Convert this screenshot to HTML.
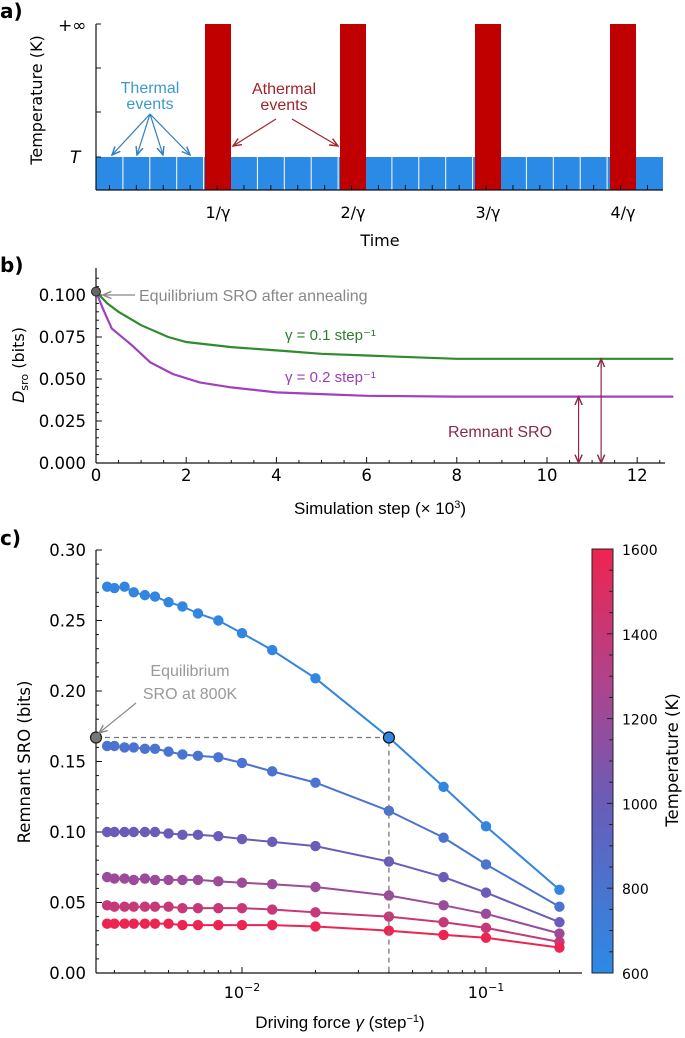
<!DOCTYPE html>
<html><head><meta charset="utf-8"><style>
body{margin:0;background:#fff;}
svg text{font-family:"DejaVu Sans","Liberation Sans",sans-serif;}
.ann{font-family:"Liberation Sans",sans-serif;}
</style></head><body>
<svg id="fig" width="685" height="1033" viewBox="0 0 685 1033" xmlns="http://www.w3.org/2000/svg">
<defs>
<linearGradient id="cbg" x1="0" y1="1" x2="0" y2="0"><stop offset="0" stop-color="#2a8be6"/><stop offset="0.4" stop-color="#6a5cb8"/><stop offset="0.7" stop-color="#b2428a"/><stop offset="1" stop-color="#ee2450"/></linearGradient>
<marker id="ab" markerWidth="8" markerHeight="8" refX="7" refY="4" orient="auto"><path d="M0,1 L7,4 L0,7" fill="none" stroke="#2f7fc0" stroke-width="1.2"/></marker>
<marker id="ar" markerWidth="8" markerHeight="8" refX="7" refY="4" orient="auto"><path d="M0,1 L7,4 L0,7" fill="none" stroke="#a3232a" stroke-width="1.2"/></marker>
<marker id="ag" markerWidth="8" markerHeight="8" refX="7" refY="4" orient="auto"><path d="M0,1 L7,4 L0,7" fill="none" stroke="#888" stroke-width="1.2"/></marker>
<marker id="am" markerWidth="8" markerHeight="8" refX="7" refY="4" orient="auto"><path d="M0,1 L7,4 L0,7" fill="none" stroke="#8b2a45" stroke-width="1.2"/></marker>
</defs>
<g id="pa"></g>
<g id="pb"></g>
<g id="pc"></g>
</svg>
<script>
// ---------- Panel b data ----------
const bGreenX=[0,0.25,0.5,1,1.6,2,3,4,5,6,7,8,10,12.8];
const bGreenY=[0.102,0.095,0.09,0.082,0.075,0.072,0.069,0.067,0.065,0.064,0.063,0.062,0.062,0.062];
const bPurpX=[0,0.15,0.35,0.8,1.2,1.7,2.3,3,4,5,6,8,10,12.8];
const bPurpY=[0.102,0.092,0.08,0.07,0.06,0.053,0.048,0.045,0.042,0.041,0.040,0.0395,0.0395,0.0395];
const bXTicks=[0,2,4,6,8,10,12];
const bYTicks=[0,0.025,0.05,0.075,0.1];
// ---------- Panel c data ----------
const cGamma=[0.0028,0.003,0.0033,0.0036,0.004,0.0044,0.005,0.0057,0.0066,0.008,0.01,0.0133,0.02,0.04,0.067,0.1,0.2];
const cS1=[0.274,0.273,0.274,0.270,0.268,0.267,0.263,0.260,0.255,0.250,0.241,0.229,0.209,0.167,0.132,0.104,0.059];
const cS2=[0.161,0.161,0.160,0.160,0.159,0.159,0.157,0.155,0.154,0.153,0.149,0.143,0.135,0.115,0.096,0.077,0.047];
const cS3=[0.100,0.100,0.100,0.100,0.100,0.100,0.099,0.098,0.098,0.097,0.095,0.093,0.090,0.079,0.068,0.057,0.036];
const cS4=[0.068,0.067,0.067,0.066,0.067,0.066,0.066,0.066,0.066,0.065,0.064,0.063,0.061,0.055,0.048,0.042,0.028];
const cS5=[0.048,0.047,0.047,0.047,0.047,0.047,0.047,0.046,0.046,0.046,0.046,0.045,0.043,0.040,0.036,0.032,0.022];
const cS6=[0.035,0.035,0.035,0.035,0.035,0.035,0.035,0.034,0.034,0.034,0.034,0.034,0.033,0.030,0.027,0.025,0.018];
const cTemps=[650,800,1000,1200,1400,1600];
const cYTicks=[0,0.05,0.1,0.15,0.2,0.25,0.3];
const cbTicks=[600,800,1000,1200,1400,1600];

const NS="http://www.w3.org/2000/svg";
function mk(p,t,a,txt){const e=document.createElementNS(NS,t);for(const k in a)e.setAttribute(k,a[k]);if(txt!==undefined)e.textContent=txt;p.appendChild(e);return e;}
const fig=document.getElementById('fig');
const la=mk(fig,'text',{x:0,y:18,'font-size':20,'font-weight':'bold'},'a)');


const lb=mk(fig,'text',{x:0,y:272,'font-size':20,'font-weight':'bold'},'b)');


const lc=mk(fig,'text',{x:0,y:545,'font-size':20,'font-weight':'bold'},'c)');



// ---------- Panel a ----------
const pa=document.getElementById('pa');
const blue=mk(pa,'rect',{x:96,y:157,width:567,height:33,fill:'#2a8ae6'});


const cw=26.9;
const redStarts=[205,340,475,610];
for(let i=0;i<20;i++){const x=96+cw*(i+1);mk(pa,'line',{x1:x,y1:157,x2:x,y2:190,stroke:'#fff','stroke-width':1});}
redStarts.forEach((x,i)=>{const r=mk(pa,'rect',{x:x,y:24,width:26,height:166,fill:'#c00000'});

});
mk(pa,'line',{x1:96,y1:24,x2:96,y2:190,stroke:'#111','stroke-width':1.2});
mk(pa,'line',{x1:96,y1:190,x2:663,y2:190,stroke:'#111','stroke-width':1.2});
[24,68,112,157].forEach(y=>mk(pa,'line',{x1:96,y1:y,x2:101,y2:y,stroke:'#111'}));
for(let i=0;i<=20;i++){const x=96+cw*(i+0.5);mk(pa,'line',{x1:x,y1:190,x2:x,y2:185,stroke:'#111'});}
mk(pa,'text',{x:58,y:31,'font-size':17},'+∞');
mk(pa,'text',{x:70,y:163,'font-size':17,'font-style':'italic'},'T');
['1/γ','2/γ','3/γ','4/γ'].forEach((t,i)=>mk(pa,'text',{x:redStarts[i]+13,y:218,'font-size':16,'text-anchor':'middle'},t));
const ta=mk(pa,'text',{x:380,y:246,'font-size':16,'text-anchor':'middle'},'Time');


const ya=mk(pa,'text',{x:0,y:0,'font-size':16,'text-anchor':'middle',transform:'translate(42,100) rotate(-90)'},'Temperature (K)');


mk(pa,'text',{x:150,y:93,'font-size':16,fill:'#3a9ad0','text-anchor':'middle',class:'ann'},'Thermal');
mk(pa,'text',{x:150,y:109,'font-size':16,fill:'#3a9ad0','text-anchor':'middle',class:'ann'},'events');
[112,137,163,190].forEach(x=>mk(pa,'line',{x1:150,y1:114,x2:x,y2:155,stroke:'#2f7fc0','stroke-width':1.2,'marker-end':'url(#ab)'}));
mk(pa,'text',{x:284,y:94,'font-size':16,fill:'#a3232a','text-anchor':'middle',class:'ann'},'Athermal');
mk(pa,'text',{x:284,y:110,'font-size':16,fill:'#a3232a','text-anchor':'middle',class:'ann'},'events');
mk(pa,'line',{x1:276,y1:119,x2:233,y2:146,stroke:'#a3232a','stroke-width':1.2,'marker-end':'url(#ar)'});
mk(pa,'line',{x1:292,y1:119,x2:338,y2:146,stroke:'#a3232a','stroke-width':1.2,'marker-end':'url(#ar)'});

// ---------- Panel b ----------
const pb=document.getElementById('pb');
const bx=v=>96+v*45.1, by=v=>463-v*1680;
mk(pb,'line',{x1:96,y1:268,x2:96,y2:463,stroke:'#111','stroke-width':1.2});
mk(pb,'line',{x1:96,y1:463,x2:665,y2:463,stroke:'#111','stroke-width':1.2});
for(let v=0;v<=12.8;v+=0.5){const maj=Math.abs(v-Math.round(v/2)*2)<1e-6;mk(pb,'line',{x1:bx(v),y1:463,x2:bx(v),y2:463-(maj?6:3),stroke:'#111'});}
for(let v=0;v<=0.115;v+=0.005){mk(pb,'line',{x1:96,y1:by(v),x2:99+(Math.abs(v/0.025-Math.round(v/0.025))<1e-6?3:0),y2:by(v),stroke:'#111'});}
bXTicks.forEach(v=>mk(pb,'text',{x:bx(v),y:481,'font-size':16.5,'text-anchor':'middle'},String(v)));
bYTicks.forEach(v=>mk(pb,'text',{x:86,y:by(v)+6,'font-size':16.5,'text-anchor':'end'},v.toFixed(3)));
function path(xs,ys,fx,fy){return xs.map((x,i)=>(i?'L':'M')+fx(x).toFixed(1)+','+fy(ys[i]).toFixed(1)).join(' ');}
const gl=mk(pb,'path',{d:path(bGreenX,bGreenY,bx,by),fill:'none',stroke:'#2e8b2e','stroke-width':2.2});


const pl=mk(pb,'path',{d:path(bPurpX,bPurpY,bx,by),fill:'none',stroke:'#a040c0','stroke-width':2.2});


const gp=mk(pb,'circle',{cx:bx(0),cy:by(0.102),r:4.5,fill:'#666',stroke:'#222'});


mk(pb,'line',{x1:135,y1:295,x2:103,y2:295,stroke:'#888','stroke-width':1.2,'marker-end':'url(#ag)'});
mk(pb,'text',{x:139,y:301,'font-size':16,fill:'#888',class:'ann'},'Equilibrium SRO after annealing');
mk(pb,'text',{x:285,y:340,'font-size':15,fill:'#2e7d2e',class:'ann'},'γ = 0.1 step⁻¹');
mk(pb,'text',{x:285,y:382,'font-size':15,fill:'#9a3db5',class:'ann'},'γ = 0.2 step⁻¹');
mk(pb,'text',{x:500,y:437,'font-size':16,fill:'#8b2a45','text-anchor':'middle',class:'ann'},'Remnant SRO');
[[10.7,0.0395],[11.2,0.062]].forEach(([x,v])=>{mk(pb,'line',{x1:bx(x),y1:by(v)+9,x2:bx(x),y2:by(v),stroke:'#8b2a45','stroke-width':1.2,'marker-end':'url(#am)'});
mk(pb,'line',{x1:bx(x),y1:by(v)+5,x2:bx(x),y2:463,stroke:'#8b2a45','stroke-width':1.2,'marker-end':'url(#am)'});});
const xbt=mk(pb,'text',{x:380,y:514,'font-size':17,'text-anchor':'middle',class:'ann'},'');
xbt.innerHTML='Simulation step (× 10<tspan dy="-6" font-size="11">3</tspan><tspan dy="6">)</tspan>';


const ybt=mk(pb,'text',{x:0,y:0,'font-size':16,'text-anchor':'middle',transform:'translate(24,365) rotate(-90)'},'');
ybt.innerHTML='<tspan font-style="italic">D</tspan><tspan font-size="11" dy="4">sro</tspan><tspan dy="-4"> (bits)</tspan>';



// ---------- Panel c ----------
const pc=document.getElementById('pc');
const cx=g=>242+(Math.log10(g)+2)*244, cy=v=>973-v*1410;
function tcol(t){const f=(t-600)/1000;const a=[42,139,230],b=[106,92,184],c=[178,66,138],d=[238,36,80];
let p,q,u;if(f<0.4){p=a;q=b;u=f/0.4}else if(f<0.7){p=b;q=c;u=(f-0.4)/0.3}else{p=c;q=d;u=(f-0.7)/0.3}
return 'rgb('+p.map((v,i)=>Math.round(v+(q[i]-v)*u)).join(',')+')';}
mk(pc,'line',{x1:96,y1:550,x2:96,y2:973,stroke:'#111','stroke-width':1.2});
mk(pc,'line',{x1:96,y1:973,x2:582,y2:973,stroke:'#111','stroke-width':1.2});
for(let i=0;i<=30;i++){const v=i*0.01;mk(pc,'line',{x1:96,y1:cy(v),x2:(i%5==0)?102:99,y2:cy(v),stroke:'#111'});}
cYTicks.forEach(v=>mk(pc,'text',{x:86,y:cy(v)+6,'font-size':16.5,'text-anchor':'end'},v.toFixed(2)));
for(let d=-3;d<=-1;d++)for(let m=1;m<=9;m++){const g=m*Math.pow(10,d);const x=cx(g);if(x<96||x>582)continue;mk(pc,'line',{x1:x,y1:973,x2:x,y2:973-(m==1?6:3),stroke:'#111'});}
[[-2,0.01],[-1,0.1]].forEach(([e,g])=>{const t=mk(pc,'text',{x:cx(g),y:998,'font-size':16,'text-anchor':'middle'},'');t.innerHTML='10<tspan dy="-7" font-size="11">−'+(-e)+'</tspan>';});
const series=[cS1,cS2,cS3,cS4,cS5,cS6];
series.forEach((s,k)=>{const col=tcol(cTemps[k]);
const ln=mk(pc,'path',{d:path(cGamma,s,cx,cy),fill:'none',stroke:col,'stroke-width':2});


s.forEach((v,i)=>{const c=mk(pc,'circle',{cx:cx(cGamma[i]),cy:cy(v),r:5.2,fill:col});

});});
const eqv=cS1[13], eqx=cx(cGamma[13]);
mk(pc,'path',{d:'M96,'+cy(eqv)+' H'+eqx+' V973',fill:'none',stroke:'#777','stroke-width':1.3,'stroke-dasharray':'5,4'});
mk(pc,'circle',{cx:eqx,cy:cy(eqv),r:5.5,fill:tcol(650),stroke:'#111','stroke-width':1.2});
const eqp=mk(pc,'circle',{cx:96,cy:cy(eqv),r:5.5,fill:'#777',stroke:'#222','stroke-width':1.2});


mk(pc,'text',{x:190,y:676,'font-size':16,fill:'#999','text-anchor':'middle',class:'ann'},'Equilibrium');
mk(pc,'text',{x:190,y:699,'font-size':16,fill:'#999','text-anchor':'middle',class:'ann'},'SRO at 800K');
mk(pc,'line',{x1:136,y1:703,x2:99,y2:733,stroke:'#888','stroke-width':1.2,'marker-end':'url(#ag)'});
const cb=mk(pc,'rect',{x:592,y:549,width:21,height:424,fill:'url(#cbg)',stroke:'#222','stroke-width':1});


const cby=t=>973-(t-600)/1000*424;
for(let t=600;t<=1600;t+=50){mk(pc,'line',{x1:613,y1:cby(t),x2:609-(t%200==0?2:0),y2:cby(t),stroke:'#222'});}
cbTicks.forEach(t=>mk(pc,'text',{x:622,y:cby(t)+6,'font-size':14},String(t)));
const cbt=mk(pc,'text',{x:0,y:0,'font-size':16.5,'text-anchor':'middle',transform:'translate(678,760) rotate(-90)'},'Temperature (K)');


const xct=mk(pc,'text',{x:340,y:1028,'font-size':17,'text-anchor':'middle',class:'ann'},'');
xct.innerHTML='Driving force <tspan font-style="italic">γ</tspan> (step<tspan dy="-6" font-size="11">−1</tspan><tspan dy="6">)</tspan>';


const yct=mk(pc,'text',{x:0,y:0,'font-size':16.5,'text-anchor':'middle',transform:'translate(30,762) rotate(-90)'},'Remnant SRO (bits)');


</script>
</body></html>
